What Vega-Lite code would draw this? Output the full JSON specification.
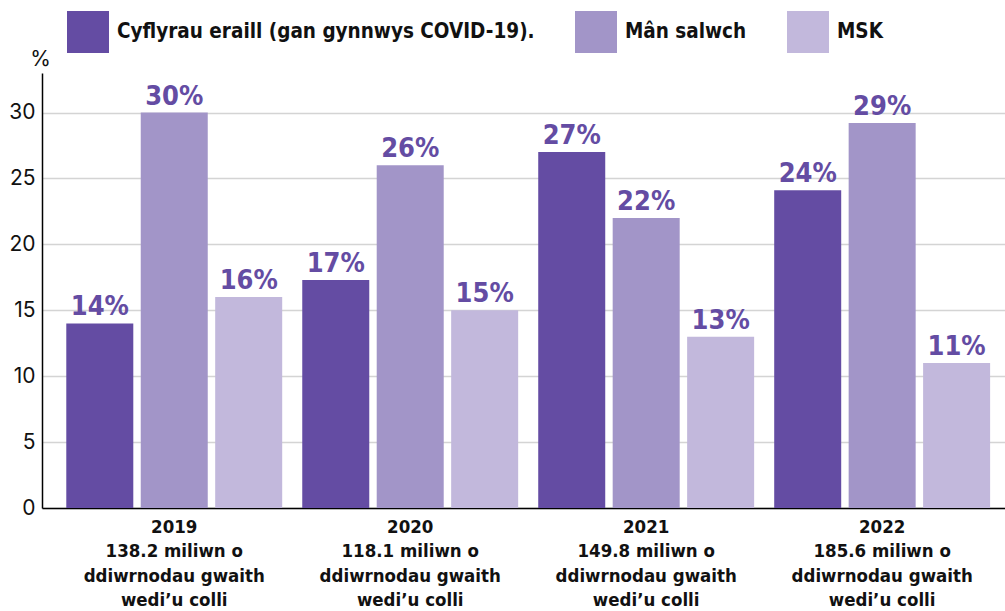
{
  "$schema": "https://vega.github.io/schema/vega-lite/v6.json",
  "width": 963,
  "height": 435,
  "autosize": {"type": "none"},
  "padding": {"left": 42, "top": 73, "right": 0, "bottom": 103},
  "background": "white",
  "config": {"view": {"stroke": null}},
  "data": {
    "values": [
      {"group": "2019|138.2 miliwn o|ddiwrnodau gwaith|wedi’u colli", "series": "Cyflyrau eraill (gan gynnwys COVID-19).", "value": 14.0, "label": "14%"},
      {"group": "2019|138.2 miliwn o|ddiwrnodau gwaith|wedi’u colli", "series": "Mân salwch", "value": 30.0, "label": "30%"},
      {"group": "2019|138.2 miliwn o|ddiwrnodau gwaith|wedi’u colli", "series": "MSK", "value": 16.0, "label": "16%"},
      {"group": "2020|118.1 miliwn o|ddiwrnodau gwaith|wedi’u colli", "series": "Cyflyrau eraill (gan gynnwys COVID-19).", "value": 17.3, "label": "17%"},
      {"group": "2020|118.1 miliwn o|ddiwrnodau gwaith|wedi’u colli", "series": "Mân salwch", "value": 26.0, "label": "26%"},
      {"group": "2020|118.1 miliwn o|ddiwrnodau gwaith|wedi’u colli", "series": "MSK", "value": 15.0, "label": "15%"},
      {"group": "2021|149.8 miliwn o|ddiwrnodau gwaith|wedi’u colli", "series": "Cyflyrau eraill (gan gynnwys COVID-19).", "value": 27.0, "label": "27%"},
      {"group": "2021|149.8 miliwn o|ddiwrnodau gwaith|wedi’u colli", "series": "Mân salwch", "value": 22.0, "label": "22%"},
      {"group": "2021|149.8 miliwn o|ddiwrnodau gwaith|wedi’u colli", "series": "MSK", "value": 13.0, "label": "13%"},
      {"group": "2022|185.6 miliwn o|ddiwrnodau gwaith|wedi’u colli", "series": "Cyflyrau eraill (gan gynnwys COVID-19).", "value": 24.1, "label": "24%"},
      {"group": "2022|185.6 miliwn o|ddiwrnodau gwaith|wedi’u colli", "series": "Mân salwch", "value": 29.2, "label": "29%"},
      {"group": "2022|185.6 miliwn o|ddiwrnodau gwaith|wedi’u colli", "series": "MSK", "value": 11.0, "label": "11%"}
    ]
  },
  "encoding": {
    "x": {
      "field": "group", "type": "nominal", "sort": null,
      "scale": {"paddingInner": 0.085, "paddingOuter": 0.083, "align": 0.62},
      "axis": {
        "title": null, "labelAngle": 0, "ticks": false, "domain": true,
        "domainColor": "#000000", "domainWidth": 1.5,
        "labelExpr": "split(datum.label, '|')",
        "labelFont": "DejaVu Sans Condensed, Roboto", "labelFontWeight": "bold",
        "labelFontSize": 18.5, "labelLineHeight": 24.5, "labelColor": "#111111",
        "labelPadding": 9, "labelBaseline": "top", "labelLimit": 0
      }
    },
    "xOffset": {
      "field": "series", "type": "nominal",
      "sort": ["Cyflyrau eraill (gan gynnwys COVID-19).", "Mân salwch", "MSK"],
      "scale": {"paddingInner": 0.1}
    },
    "y": {
      "field": "value", "type": "quantitative",
      "scale": {"domain": [0, 33], "nice": false},
      "axis": {
        "values": [0, 5, 10, 15, 20, 25, 30],
        "title": "%", "titleAngle": 0, "titleX": -2, "titleY": -8,
        "titleAlign": "center", "titleBaseline": "alphabetic",
        "titleFont": "Inter", "titleFontSize": 21, "titleFontWeight": "normal", "titleColor": "#111111",
        "labelFont": "Inter", "labelFontSize": 21, "labelColor": "#111111", "labelPadding": 7,
        "ticks": false, "domain": true, "domainColor": "#000000", "domainWidth": 1.5,
        "grid": true, "gridColor": "#d4d4d4", "gridWidth": 1.5
      }
    }
  },
  "layer": [
    {
      "mark": {"type": "bar"},
      "encoding": {
        "color": {
          "field": "series", "type": "nominal",
          "sort": ["Cyflyrau eraill (gan gynnwys COVID-19).", "Mân salwch", "MSK"],
          "scale": {
            "domain": ["Cyflyrau eraill (gan gynnwys COVID-19).", "Mân salwch", "MSK"],
            "range": ["#644ca3", "#a295c8", "#c2b8dc"]
          },
          "legend": {
            "orient": "none", "legendX": 25, "legendY": -62, "direction": "horizontal",
            "title": null, "symbolType": "square", "symbolSize": 1764, "symbolStrokeWidth": 0,
            "symbolOpacity": 1,
            "labelFont": "DejaVu Sans Condensed, Roboto", "labelFontWeight": "bold", "labelFontSize": 20.5,
            "labelColor": "#111111", "labelOffset": 8, "columnPadding": 40, "labelLimit": 0
          }
        }
      }
    },
    {
      "mark": {
        "type": "text", "baseline": "alphabetic", "dy": -8,
        "font": "DejaVu Sans Condensed, Roboto", "fontWeight": "bold", "fontSize": 27, "color": "#644ca3"
      },
      "encoding": {"text": {"field": "label"}}
    }
  ]
}
